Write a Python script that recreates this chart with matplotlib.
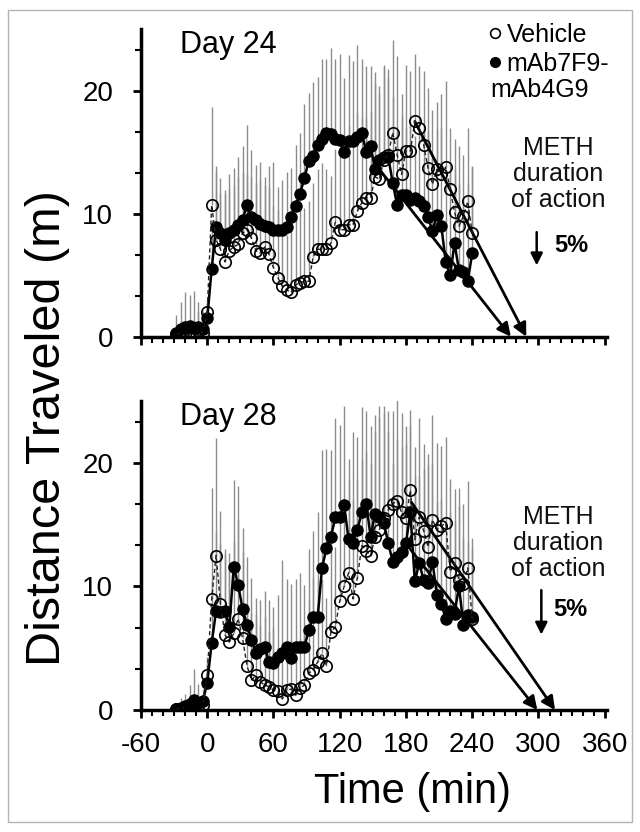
import numpy as np
import matplotlib
matplotlib.use("Agg")
import matplotlib.pyplot as plt
from matplotlib.ticker import MultipleLocator
from matplotlib.lines import Line2D
from matplotlib.patches import Rectangle

plt.rcParams['font.family'] = ['Liberation Sans', 'DejaVu Sans']
plt.rcParams['axes.unicode_minus'] = False

# time bins (min), 4-min bins from -28 to 240
t = np.arange(-28, 241, 4)

# Day 24
veh24 = [0.2, 0.3, 0.1, 0.3, 0.2, 0.5, 0.3, 2.0,
         10.7, 7.9, 7.1, 6.1, 7.0, 7.3, 7.5, 8.4, 8.7, 8.0,
         7.0, 6.8, 7.3, 6.7, 5.6, 4.8, 4.1, 3.8, 3.6, 4.2,
         4.4, 4.5, 4.5, 6.5, 7.1, 7.1, 7.1, 7.6, 9.3, 8.7,
         8.7, 9.1, 9.1, 10.2, 10.9, 11.3, 11.3, 13.0, 12.8, 14.4,
         14.8, 16.6, 14.8, 13.2, 15.1, 15.1, 17.5, 17.0, 15.6, 13.7,
         12.4, 13.6, 13.2, 13.8, 12.0, 10.1, 9.0, 9.8, 11.0, 8.4]
veh24_err = [0.5, 1.0, 0.5, 1.0, 0.8, 1.5, 1.0, 1.0,
             8.0, 5.5, 4.5, 5.5, 5.0, 5.0, 5.5, 5.0, 4.5, 5.0,
             5.5, 6.0, 5.0, 5.5, 5.0, 5.5, 5.0, 4.5, 5.0, 5.5,
             6.5, 6.0, 6.5, 6.0, 6.5, 7.0, 6.5, 5.5, 6.0, 7.0,
             7.5, 8.0, 7.5, 8.0, 7.0, 6.5, 7.0, 8.5, 7.0, 7.5,
             7.0, 7.5, 8.0, 6.5, 7.0, 6.5, 5.5, 5.0, 6.0, 6.5,
             6.0, 5.5, 6.5, 7.0, 5.0, 6.0, 6.5, 5.0, 6.0, 5.5]
mab24 = [0.3, 0.6, 0.8, 0.9, 0.7, 0.8, 0.6, 1.5,
         5.5, 8.9, 8.4, 7.9, 8.4, 8.7, 9.1, 9.5, 10.7, 9.7,
         9.5, 9.2, 9.0, 8.9, 8.7, 8.7, 8.7, 8.9, 9.7, 10.6,
         11.6, 12.9, 14.3, 14.7, 15.6, 16.1, 16.6, 16.5, 16.1, 16.0,
         15.0, 15.9, 15.9, 16.2, 16.6, 15.0, 15.5, 13.6, 14.4, 14.6,
         14.6, 12.5, 10.7, 11.5, 11.5, 11.1, 11.3, 11.0, 10.6, 9.7,
         8.6, 9.9, 9.0, 6.1, 5.0, 7.6, 5.4, 5.3, 4.5, 6.8]
mab24_err = [1.5, 2.2, 2.8, 2.5, 3.0, 2.0, 1.5, 1.0,
             4.0, 5.0, 4.5, 4.0, 4.8, 5.0, 5.5, 6.0, 6.5, 5.5,
             4.5, 5.0, 4.0, 5.0, 5.5, 3.5, 4.0, 4.5, 4.0, 5.0,
             5.0, 6.0, 5.5, 6.0, 5.5, 6.5, 6.0, 7.0, 6.5, 7.0,
             6.0, 7.0, 6.5, 7.5, 6.0, 7.0, 6.5, 7.0, 6.0, 7.5,
             6.5, 7.0, 6.0, 6.5, 5.5, 6.0, 5.0, 6.0, 6.5, 7.0,
             6.0, 7.0, 8.0, 7.5, 8.5, 6.0, 7.0, 6.0, 8.0, 7.0]

# Day 28
veh28 = [0.1, 0.1, 0.2, 0.2, 0.3, 0.3, 0.4, 2.8,
         9.0, 12.5, 8.6, 6.1, 5.5, 6.2, 7.4, 5.8, 3.6, 2.4,
         2.8, 2.3, 2.0, 1.9, 1.6, 1.5, 0.9, 1.6, 1.7, 1.2,
         1.8, 2.0, 3.0, 3.2, 3.9, 4.6, 3.6, 6.3, 6.7, 8.8,
         10.0, 11.1, 9.0, 10.7, 13.3, 12.9, 12.5, 14.0, 14.6, 15.5,
         16.2, 16.7, 16.9, 16.0, 15.5, 17.8, 13.8, 15.6, 14.5, 13.2,
         15.4, 14.6, 14.9, 15.1, 11.2, 11.9, 10.5, 10.2, 11.5, 7.4]
veh28_err = [0.2, 0.3, 0.3, 0.5, 0.5, 0.5, 0.8, 1.5,
             9.0, 9.5, 7.5, 6.5, 6.0, 7.5, 8.0, 7.0, 4.5, 5.5,
             5.0, 4.5, 5.5, 4.5, 5.0, 3.5, 3.5, 3.5, 4.0, 3.0,
             4.0, 4.5, 6.0, 7.5, 6.5, 6.0, 5.5, 7.5, 6.5, 7.0,
             6.5, 7.5, 8.0, 8.0, 7.0, 8.0, 7.5, 8.5, 9.0, 8.5,
             8.0, 7.5, 8.5, 8.0, 7.5, 6.5, 7.5, 8.0, 7.0, 7.5,
             8.5, 7.0, 6.5, 7.0, 7.5, 6.0, 7.5, 6.5, 7.0, 6.5]
mab28 = [0.1, 0.2, 0.3, 0.5, 0.8, 0.6, 0.7, 2.2,
         5.4, 8.0, 7.9, 8.0, 6.7, 11.6, 10.1, 8.2, 6.9, 5.7,
         4.6, 4.9, 5.1, 3.9, 3.8, 4.3, 4.6, 5.1, 4.2, 5.1,
         5.1, 5.1, 6.5, 7.5, 7.5, 11.5, 13.1, 14.0, 15.6, 15.6,
         16.6, 13.8, 13.5, 14.6, 16.0, 16.7, 14.0, 15.9, 15.6, 15.1,
         13.5, 12.0, 12.4, 12.8, 13.5, 16.0, 10.4, 11.9, 10.5, 10.3,
         12.0, 9.3, 8.6, 7.4, 8.0, 7.8, 10.0, 6.9, 7.7, 7.5]
mab28_err = [0.5, 0.8, 1.0, 1.5, 2.5, 1.5, 1.0, 1.5,
             5.0, 6.5, 5.5, 5.0, 6.0, 7.0, 8.0, 6.5, 5.5, 5.0,
             4.5, 4.0, 4.5, 5.0, 4.5, 5.0, 7.5, 5.5, 6.0, 5.5,
             6.0, 5.0, 6.5, 7.0, 8.5, 9.5, 8.0, 7.0, 8.0, 7.5,
             8.0, 6.5, 9.0, 7.5, 8.5, 7.5, 9.0, 8.0, 9.0, 9.5,
             9.0, 8.0, 9.5, 8.5, 8.0, 7.0, 8.5, 7.0, 9.0, 9.5,
             8.0, 7.5, 8.5, 7.0, 8.0, 7.5, 6.5, 7.0, 6.0, 5.5]

# descending-limb extrapolation: (t start, value start, t at zero)
decline24 = {'veh': (188, 17.5, 289), 'mab': (156, 13.6, 275)}
decline28 = {'veh': (185, 16.8, 315), 'mab': (184, 13.0, 299)}

panels = [
    ('Day 24', veh24, veh24_err, mab24, mab24_err, decline24),
    ('Day 28', veh28, veh28_err, mab28, mab28_err, decline28),
]

fig = plt.figure(figsize=(6.4, 8.32), dpi=100)
fig.patches.append(Rectangle((0.0125, 0.012), 0.975, 0.976, transform=fig.transFigure,
                             fill=False, ec='#b4b4b4', lw=1))

axes = [fig.add_axes([0.2203, 0.5953, 0.728, 0.3696]),
        fig.add_axes([0.2203, 0.1466, 0.728, 0.3714])]

for i, (ax, (day, veh, veh_err, mab, mab_err, decl)) in enumerate(zip(axes, panels)):
    zero = np.zeros(len(t))
    ax.errorbar(t, mab, yerr=[zero, mab_err], fmt='none', ecolor='#8c8c8c', elinewidth=1.0, capsize=0, zorder=1)
    ax.errorbar(t, veh, yerr=[zero, veh_err], fmt='none', ecolor='#8c8c8c', elinewidth=1.0, capsize=0, zorder=1)

    for key in ['mab', 'veh']:
        t0, v0, t1 = decl[key]
        ax.annotate('', xy=(t1, 0), xytext=(t0, v0),
                    arrowprops=dict(arrowstyle='-|>', color='k', lw=2, mutation_scale=20,
                                    shrinkA=0, shrinkB=0), zorder=3)

    ax.plot(t, mab, '-', color='k', lw=1.8, marker='o', ms=8, mfc='k', mec='k', zorder=4)
    ax.plot(t, veh, '--', color='#222222', lw=1.0, dashes=(3, 2), marker='o', ms=8.2,
            mfc='none', mec='k', mew=1.2, zorder=5)

    ax.set_xlim(-60, 362)
    ax.set_ylim(0, 25)
    ax.xaxis.set_major_locator(MultipleLocator(60))
    ax.xaxis.set_minor_locator(MultipleLocator(10))
    ax.yaxis.set_major_locator(MultipleLocator(10))
    ax.yaxis.set_minor_locator(MultipleLocator(10 / 3))
    for s in ['top', 'right']:
        ax.spines[s].set_visible(False)
    for s in ['left', 'bottom']:
        ax.spines[s].set_linewidth(2.5)
    ax.tick_params(which='major', direction='out', length=6, width=2, labelsize=20, pad=10)
    ax.tick_params(which='minor', direction='out', length=4, width=1.5)
    ax.tick_params(axis='y', which='major', pad=14)

    ax.text(-25, 23.7, day, fontsize=22, ha='left', va='center')
    ax.text(318, 13.2 if i == 0 else 13.5, 'METH\nduration\nof action', fontsize=18,
            ha='center', va='center', linespacing=1.1, color='#111111')

    if i == 0:
        ax.tick_params(axis='x', labelbottom=False)
        ax.annotate('', xy=(298.4, 5.8), xytext=(298.4, 8.5),
                    arrowprops=dict(arrowstyle='-|>', color='k', lw=1.8, mutation_scale=18,
                                    shrinkA=0, shrinkB=0))
        ax.text(314.6, 7.45, '5%', fontsize=17, fontweight='bold', ha='left', va='center')
    else:
        ax.annotate('', xy=(302.6, 6.1), xytext=(302.6, 9.7),
                    arrowprops=dict(arrowstyle='-|>', color='k', lw=1.8, mutation_scale=18,
                                    shrinkA=0, shrinkB=0))
        ax.text(313, 8.1, '5%', fontsize=17, fontweight='bold', ha='left', va='center')

handles = [Line2D([], [], ls='none', marker='o', ms=7, mfc='none', mec='k', mew=1.2),
           Line2D([], [], ls='none', marker='o', ms=7, mfc='k', mec='k')]
axes[0].legend(handles, ['Vehicle', 'mAb7F9-'], loc='upper left', bbox_to_anchor=(0.747, 1.02),
               frameon=False, fontsize=18, handlelength=0.5, handletextpad=0.2,
               labelspacing=0.2, borderpad=0, borderaxespad=0)
axes[0].text(256, 20.05, 'mAb4G9', fontsize=18, ha='left', va='center')

fig.text(48 / 640, 1 - 428 / 832, 'Distance Traveled (m)', rotation=90, fontsize=35,
         ha='center', va='center')
fig.text(412 / 640, 1 - 792 / 832, 'Time (min)', fontsize=30, ha='center', va='center')

fig.savefig('out.png', dpi=100)
